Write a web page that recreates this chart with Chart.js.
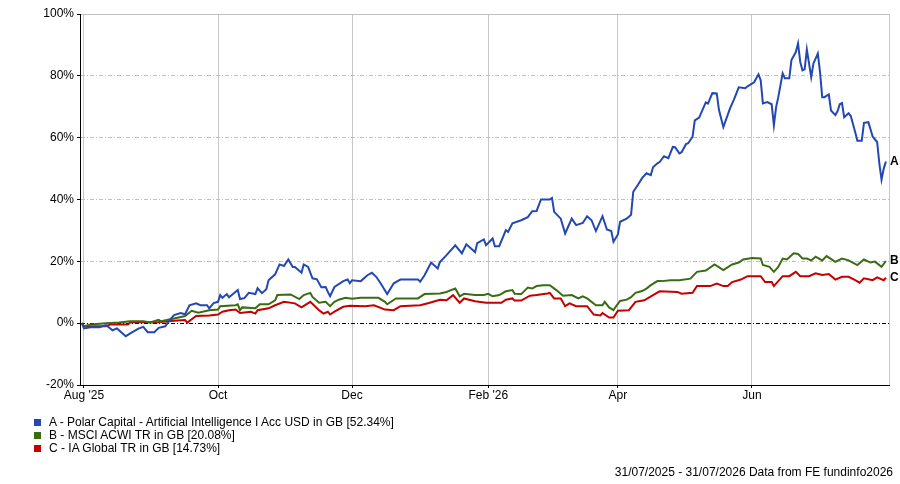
<!DOCTYPE html>
<html>
<head>
<meta charset="utf-8">
<script src="https://cdn.jsdelivr.net/npm/chart.js@4.4.1/dist/chart.umd.min.js"></script>
<style>
  html, body { margin: 0; padding: 0; background: #fff; }
  #wrap { position: relative; width: 900px; height: 484px; font-family: "Liberation Sans", Arial, sans-serif; }
  #chart { position: absolute; left: 0; top: 0; }
  #legend { position: absolute; left: 34px; top: 416px; font-size: 12px; color: #000; }
  #legend .row { height: 12.8px; line-height: 12.8px; white-space: nowrap; }
  #legend .box { display: inline-block; width: 7px; height: 7px; margin-right: 8px; vertical-align: 0px; }
  #footer { position: absolute; right: 7px; top: 465px; font-size: 12px; color: #000; white-space: nowrap; }
</style>
</head>
<body>
<div id="wrap">
  <canvas id="chart" width="900" height="484"></canvas>
  <div id="legend"></div>
  <div id="footer">31/07/2025 - 31/07/2026 Data from FE fundinfo2026</div>
</div>
<script>
// days counted from 31/07/2025
const tickDays = [1, 62, 123, 185, 244, 305];
const tickLabels = ["Aug '25", "Oct", "Dec", "Feb '26", "Apr", "Jun"];
const yTicks = [-20, 0, 20, 40, 60, 80, 100];

const seriesNames = [
    "A - Polar Capital - Artificial Intelligence I Acc USD in GB [52.34%]",
    "B - MSCI ACWI TR in GB [20.08%]",
    "C - IA Global TR in GB [14.73%]"
];
const seriesTags = ["A", "B", "C"];
const seriesColors = ["#2448b2", "#3a6c12", "#c40000"];

const fundDays = [0,1,4,8,11,14,16,20,23,26,28,30,33,35,38,40,42,45,47,49,52,54,57,58,60,62,63,64,66,67,
    71,72,74,76,79,80,82,84,85,88,90,92,94,96,97,100,101,103,105,107,109,111,112,113,115,119,121,122,123,127,
    130,132,134,136,139,142,145,153,154,156,159,162,163,166,170,173,175,179,180,183,184,187,188,190,193,194,196,200,203,205,
    207,209,213,214,215,218,220,223,225,228,230,232,234,237,239,241,242,244,245,248,250,251,253,255,257,259,260,262,263,265,
    267,269,270,272,273,275,276,278,279,281,284,285,287,289,290,292,295,297,299,302,303,306,308,309,310,312,314,315,316,317,
    319,320,322,323,325,326,327,328,329,330,332,333,335,336,337,338,340,341,343,344,345,346,347,349,350,352,353,355,356,358,
    360,362,363,364,365,366];
const fundVals = [0,-1.7,-1.3,-1.3,-0.6,-2.3,-1.7,-4.2,-2.9,-1.7,-1.2,-2.9,-2.9,-1.5,-1.0,1.0,2.6,3.3,2.9,5.8,6.4,5.8,5.8,4.8,6.5,6.9,9.1,8.2,9.4,8.4,
    10.7,7.8,8.1,9.8,9.4,11.3,9.7,11.0,13.9,15.8,19.0,18.5,20.6,18.2,18.2,16.3,19.0,18.2,14.5,14.2,11.6,11.7,10.1,8.7,11.7,13.6,14.1,12.9,13.9,13.6,
    15.5,16.3,15.0,12.9,9.4,12.9,14.1,14.1,13.4,15.5,19.6,17.7,19.8,22.0,25.2,22.6,25.5,23.0,25.9,27.1,25.2,27.4,24.9,24.9,30.1,29.5,32.3,33.3,34.3,36.2,
    36.3,40.0,40.0,40.5,36.0,33.8,29.0,33.8,31.7,32.4,34.6,33.3,29.8,34.6,30.3,29.8,26.3,28.7,32.8,33.8,35.1,42.5,44.6,46.9,48.5,47.9,50.4,51.7,52.1,54.0,
    53.4,57.0,56.9,54.9,55.3,57.9,58.2,60.3,65.6,66.5,71.4,71.0,74.4,74.3,69.0,63.4,69.4,72.6,76.3,76.0,76.6,77.9,80.5,78.6,71.1,71.5,70.8,64.0,69.8,73.1,
    80.8,79.2,79.2,85.1,87.7,90.5,84.5,81.8,82.1,88.5,79.6,84.0,87.2,81.3,73.1,73.1,74.0,68.8,67.3,68.6,70.8,71.2,66.6,67.9,67.0,61.8,59.0,59.0,64.8,65.0,
    60.3,58.6,51.7,46.4,50.0,52.3];

const msciDays = [0,1,4,11,17,22,28,31,35,36,42,47,50,53,58,62,63,70,71,72,73,79,81,85,88,89,95,99,101,104,
    105,108,111,113,115,117,120,123,127,135,138,139,143,153,156,163,166,168,170,172,174,179,183,185,187,190,193,196,197,200,
    203,205,207,210,213,216,219,223,226,228,230,234,237,238,240,242,243,245,248,250,252,255,257,259,262,264,268,272,277,280,
    284,288,292,296,299,301,305,309,310,313,315,317,319,321,324,326,328,330,332,334,337,339,343,346,349,353,356,359,361,364,366];
const msciVals = [0,-1.0,-0.4,0,0.2,0.6,0.6,0.2,1.1,0.6,1.5,2.3,4.0,3.4,4.2,4.4,5.5,5.8,6.1,4.2,5.1,4.8,6.1,6.1,7.4,9.1,9.3,7.8,9.1,9.8,
    8.5,6.6,6.9,5.5,6.9,7.6,8.2,7.9,8.2,8.2,6.9,6.1,8.0,8.0,9.4,9.6,10.1,10.7,11.2,8.7,9.5,9.1,9.1,9.5,8.7,9.1,10.3,10.7,9.5,9.4,
    11.5,11.2,12.0,12.3,12.3,10.7,8.9,9.1,8.0,8.7,8.0,5.8,5.8,6.9,5.1,4.2,5.3,7.2,7.6,8.4,9.8,10.4,11.2,12.3,13.6,13.6,13.9,13.9,14.4,16.6,
    17.0,19.0,17.2,19.0,19.6,20.6,21.1,20.9,18.8,18.2,16.6,18.2,20.9,20.6,22.6,22.4,20.9,20.9,20.3,21.5,20.3,21.7,19.8,20.9,20.3,18.8,20.6,19.6,19.9,18.2,20.1];

const iaDays = [0,1,11,13,21,22,28,33,36,42,47,48,52,58,62,64,67,70,72,77,79,80,85,88,92,97,100,104,108,110,
    112,113,115,119,122,129,133,138,142,145,154,158,163,166,168,169,172,174,179,184,191,193,196,197,200,204,207,212,213,215,
    218,220,222,225,230,233,236,237,240,242,244,249,252,256,260,263,271,273,278,280,286,289,292,294,296,300,303,309,311,314,
    315,319,322,325,327,331,334,337,340,343,346,349,352,354,356,360,362,365,366];
const iaVals = [0,-1.0,-1.0,-0.4,-0.4,0.2,0.4,0.2,0.4,0.8,1.0,0.2,2.3,2.5,2.8,3.7,4.2,4.4,3.3,3.7,3.1,4.2,4.8,5.8,6.9,6.4,5.1,6.9,4.2,3.1,
    3.7,2.8,3.7,5.3,5.6,5.5,5.8,4.4,4.2,5.5,5.8,6.5,7.6,7.4,8.5,9.1,6.6,8.0,7.1,6.6,6.6,7.6,8.0,7.3,7.3,8.9,9.1,9.6,9.8,8.0,
    8.0,5.5,6.4,5.5,5.5,2.8,2.5,3.3,1.8,1.8,4.0,4.2,6.9,7.4,9.1,10.3,10.1,9.5,9.8,12.0,12.0,12.8,12.0,12.0,13.3,14.1,15.2,15.2,13.3,13.3,
    12.0,15.2,15.2,16.6,15.2,15.2,16.1,15.6,15.9,14.1,15.0,15.0,13.9,13.1,14.5,13.9,14.8,13.9,14.7];

function points(days, vals) {
    return days.map((d, i) => ({ x: d, y: vals[i] }));
}

const allDays = [fundDays, msciDays, iaDays];
const allVals = [fundVals, msciVals, iaVals];

// legend as plain html
const legendEl = document.getElementById('legend');
seriesNames.forEach((name, i) => {
    const row = document.createElement('div');
    row.className = 'row';
    row.innerHTML = '<span class="box" style="background:' + seriesColors[i] + '"></span>' + name;
    legendEl.appendChild(row);
});

// frame on the right + end-of-line letters
const endLabels = {
    id: 'endLabels',
    afterDatasetsDraw(chart) {
        const ctx = chart.ctx;
        const area = chart.chartArea;
        ctx.save();
        ctx.strokeStyle = '#c8c8c8';
        ctx.lineWidth = 1;
        ctx.beginPath();
        ctx.moveTo(Math.round(area.right) + 0.5, area.top);
        ctx.lineTo(Math.round(area.right) + 0.5, area.bottom);
        ctx.stroke();
        ctx.font = 'bold 12px "Liberation Sans", Arial, sans-serif';
        ctx.fillStyle = '#000';
        ctx.textBaseline = 'middle';
        chart.data.datasets.forEach((ds, i) => {
            const last = ds.data[ds.data.length - 1];
            const y = chart.scales.y.getPixelForValue(last.y);
            ctx.fillText(seriesTags[i], area.right + 1, y);
        });
        ctx.restore();
    }
};

new Chart(document.getElementById('chart'), {
    type: 'line',
    data: {
        datasets: seriesNames.map((name, i) => ({
            label: name,
            data: points(allDays[i], allVals[i]),
            borderColor: seriesColors[i],
            borderWidth: 2,
            pointRadius: 0,
            tension: 0,
            fill: false
        }))
    },
    options: {
        responsive: false,
        animation: false,
        events: [],
        layout: { padding: { left: 0, top: 14, right: 11, bottom: 79 } },
        plugins: { legend: { display: false }, tooltip: { enabled: false } },
        scales: {
            x: {
                type: 'linear',
                min: -0.82,
                max: 367.4,
                afterBuildTicks: (scale) => { scale.ticks = tickDays.map(v => ({ value: v })); },
                afterFit: (scale) => { scale.height = 20; },
                ticks: {
                    autoSkip: false,
                    maxRotation: 0,
                    padding: 0,
                    color: '#000',
                    font: { family: '"Liberation Sans", Arial, sans-serif', size: 12 },
                    callback: (v) => tickLabels[tickDays.indexOf(v)]
                },
                grid: { color: '#c8c8c8', lineWidth: 1, tickLength: 3, tickColor: '#000' },
                border: { display: true, color: '#000', width: 1 }
            },
            y: {
                min: -20,
                max: 100,
                afterBuildTicks: (scale) => { scale.ticks = yTicks.map(v => ({ value: v })); },
                afterFit: (scale) => { scale.width = 80; },
                ticks: {
                    padding: 3,
                    color: '#000',
                    font: { family: '"Liberation Sans", Arial, sans-serif', size: 12 },
                    callback: (v) => v + '%'
                },
                grid: {
                    color: (c) => c.tick && c.tick.value === 0 ? '#000' : '#c0c0c0',
                    lineWidth: 1,
                    tickLength: 3,
                    tickColor: '#000'
                },
                border: {
                    display: true,
                    color: '#000',
                    width: 1,
                    dash: (c) => c.tick && c.tick.value === 100 ? [] : [4, 2, 1, 2]
                }
            }
        }
    },
    plugins: [endLabels]
});
</script>
</body>
</html>
